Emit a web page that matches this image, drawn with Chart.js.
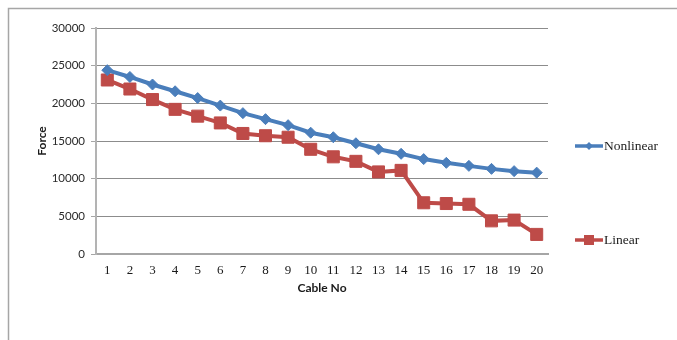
<!DOCTYPE html>
<html>
<head>
<meta charset="utf-8">
<title>Cable Force</title>
<script src="https://cdn.jsdelivr.net/npm/chart.js@4/dist/chart.umd.min.js"></script>
<style>
  html, body { margin: 0; padding: 0; background: #ffffff; }
  #wrap { position: relative; width: 677px; height: 340px; }
</style>
</head>
<body>
<div id="wrap"><canvas id="chart" width="677" height="340"></canvas></div>
<script>
// Cable numbers along the x axis
const cables = ['1','2','3','4','5','6','7','8','9','10','11','12','13','14','15','16','17','18','19','20'];

// Cable forces from the nonlinear analysis
const nonlinearForce = [24400, 23500, 22500, 21600, 20700, 19700, 18700, 17900, 17100, 16100,
                        15500, 14700, 13900, 13300, 12600, 12100, 11700, 11300, 11000, 10800];

// Cable forces from the linear analysis
const linearForce = [23100, 21900, 20500, 19200, 18300, 17400, 16000, 15700, 15500, 13900,
                     12900, 12300, 10900, 11100, 6800, 6700, 6600, 4400, 4500, 2600];

// Force axis ticks
const forceTicks = [0, 5000, 10000, 15000, 20000, 25000, 30000];

const BLUE = '#4a7ebb';
const RED = '#be4b48';
const GRID = '#8c8c8c';
const TEXT = '#1a1a1a';

// Frame around the whole figure (left and top edges)
const framePlugin = {
  id: 'frame',
  beforeDraw(chart) {
    const ctx = chart.ctx;
    ctx.save();
    ctx.strokeStyle = '#a6a6a6';
    ctx.lineWidth = 1.5;
    ctx.beginPath();
    ctx.moveTo(8.5, chart.height);
    ctx.lineTo(8.5, 8.5);
    ctx.lineTo(chart.width, 8.5);
    ctx.stroke();
    ctx.restore();
  }
};

// Legend drawn at the right of the plot, one entry per series
const sideLegend = {
  id: 'sideLegend',
  afterDraw(chart) {
    const ctx = chart.ctx;
    const rows = [146, 240];
    ctx.save();
    chart.data.datasets.forEach((ds, i) => {
      const y = rows[i];
      const x0 = 575, x1 = 603, xm = (x0 + x1) / 2;
      ctx.strokeStyle = ds.borderColor;
      ctx.lineWidth = 3.5;
      ctx.beginPath();
      ctx.moveTo(x0, y);
      ctx.lineTo(x1, y);
      ctx.stroke();
      ctx.fillStyle = ds.borderColor;
      ctx.beginPath();
      if (ds.pointStyle === 'rect') {
        ctx.rect(xm - 5, y - 5, 10, 10);
      } else {
        ctx.moveTo(xm, y - 4);
        ctx.lineTo(xm + 4, y);
        ctx.lineTo(xm, y + 4);
        ctx.lineTo(xm - 4, y);
        ctx.closePath();
      }
      ctx.fill();
      ctx.fillStyle = TEXT;
      ctx.font = '13.5px "Liberation Serif", "Times New Roman", serif';
      ctx.textAlign = 'left';
      ctx.textBaseline = 'middle';
      ctx.fillText(ds.label, x1 + 1, y);
    });
    ctx.restore();
  }
};

new Chart(document.getElementById('chart'), {
  type: 'line',
  data: {
    labels: cables,
    datasets: [
      {
        label: 'Nonlinear',
        data: nonlinearForce,
        borderColor: BLUE,
        backgroundColor: BLUE,
        borderWidth: 4,
        pointStyle: 'rectRot',
        pointRadius: 5.5,
        pointBorderWidth: 1,
        pointBackgroundColor: BLUE,
        pointBorderColor: BLUE,
        tension: 0
      },
      {
        label: 'Linear',
        data: linearForce,
        borderColor: RED,
        backgroundColor: RED,
        borderWidth: 4,
        pointStyle: 'rect',
        pointRadius: 8.5,
        pointBorderWidth: 1,
        pointBackgroundColor: RED,
        pointBorderColor: RED,
        tension: 0
      }
    ]
  },
  options: {
    responsive: false,
    animation: false,
    layout: { padding: { left: 0, top: 28, right: 129, bottom: 45 } },
    plugins: {
      legend: { display: false },
      tooltip: { enabled: false }
    },
    scales: {
      x: {
        offset: true,
        grid: { display: false, drawTicks: false },
        border: { display: true, color: '#a6a6a6', width: 2 },
        ticks: {
          padding: 9,
          color: TEXT,
          font: { family: '"Liberation Serif", "Times New Roman", serif', size: 13 },
          maxRotation: 0,
          autoSkip: false
        },
        title: {
          display: true,
          text: 'Cable No',
          color: TEXT,
          font: { family: 'Lato, "Liberation Sans", sans-serif', size: 12, weight: 'bold' },
          padding: { top: 0, bottom: 0 }
        },
        afterFit(scale) { scale.height = 41; }
      },
      y: {
        min: 0,
        max: 30000,
        afterBuildTicks(scale) { scale.ticks = forceTicks.map(v => ({ value: v })); },
        grid: { color: GRID, lineWidth: 1, drawTicks: true, tickLength: 5, tickColor: '#a6a6a6' },
        border: { display: true, color: '#b3b3b3', width: 2 },
        ticks: {
          padding: 6,
          color: '#2a2a2a',
          font: { family: 'Lato, "Liberation Sans", sans-serif', size: 11.5 },
          callback: v => String(v)
        },
        title: {
          display: true,
          text: 'Force',
          color: TEXT,
          font: { family: 'Lato, "Liberation Sans", sans-serif', size: 12, weight: 'bold' },
          padding: { top: 35, bottom: 0 }
        },
        afterFit(scale) { scale.width = 96; }
      }
    }
  },
  plugins: [framePlugin, sideLegend]
});
</script>
</body>
</html>
